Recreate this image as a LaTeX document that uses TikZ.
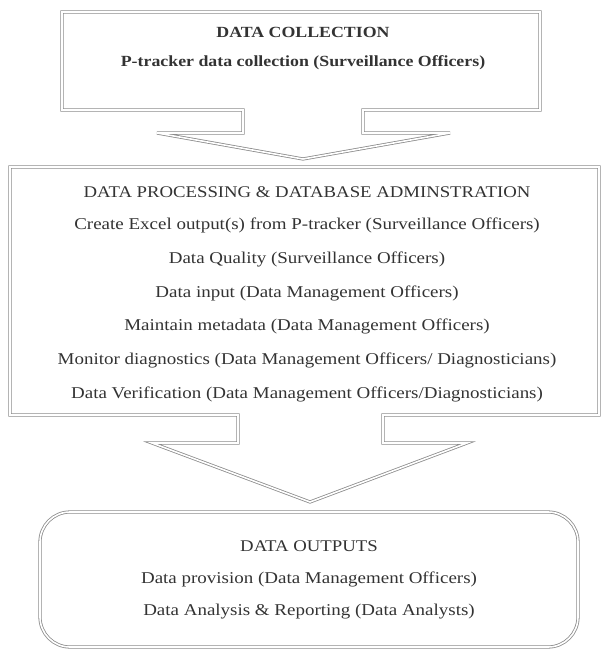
\documentclass[tikz,border=0pt]{standalone}
\usepackage{fontspec}
\setmainfont[FakeStretch=1.15]{Liberation Serif}
\usetikzlibrary{positioning}
\begin{document}
\begin{tikzpicture}[x=1pt,y=-1pt,node distance=33.7pt,outline/.style={draw=black!45,double=white,double distance=1.6pt,line width=0.8pt},main text/.style={text=black!80,inner sep=0pt,font=\fontsize{16.5}{18}\selectfont},head text/.style={main text,font=\fontsize{16.3}{18}\selectfont},top text/.style={main text,font=\bfseries\fontsize{15.5}{17}\selectfont}]
            \useasboundingbox (0,0) rectangle (606,653);

            \draw[outline] (62,12) -- (540,12) -- (540,110) -- (363,110) -- (363,133) -- (450,133) -- (303,159) -- (157,133) -- (243,133) -- (243,110) -- (62,110) -- cycle;
            \draw[outline] (10,167) -- (599,167) -- (599,415) -- (383,415) -- (383,443) -- (467,443) -- (310,502) -- (152,443) -- (238,443) -- (238,415) -- (10,415) -- cycle;
            \draw[outline,rounded corners=30pt] (40,512) rectangle (578,647);

            \node[top text] (c1) at (303,32) {DATA COLLECTION};
            \node[top text] (c2) [below of=c1,node distance=31pt] {P-tracker data collection (Surveillance Officers)};

            \node[head text] (p1) at (307,192) {DATA PROCESSING \& DATABASE ADMINSTRATION};
            \node[main text] (p2) [below of=p1] {Create Excel output(s) from P-tracker (Surveillance Officers)};
            \node[main text] (p3) [below of=p2] {Data Quality (Surveillance Officers)};
            \node[main text] (p4) [below of=p3] {Data input (Data Management Officers)};
            \node[main text] (p5) [below of=p4] {Maintain metadata (Data Management Officers)};
            \node[main text] (p6) [below of=p5] {Monitor diagnostics (Data Management Officers/ Diagnosticians)};
            \node[main text] (p7) [below of=p6] {Data Verification (Data Management Officers/Diagnosticians)};

            \node[head text] (o1) at (309,546) {DATA OUTPUTS};
            \node[main text] (o2) [below of=o1,node distance=33pt] {Data provision (Data Management Officers)};
            \node[main text] (o3) [below of=o2,node distance=33pt] {Data Analysis \& Reporting (Data Analysts)};
        \end{tikzpicture}
\end{document}
